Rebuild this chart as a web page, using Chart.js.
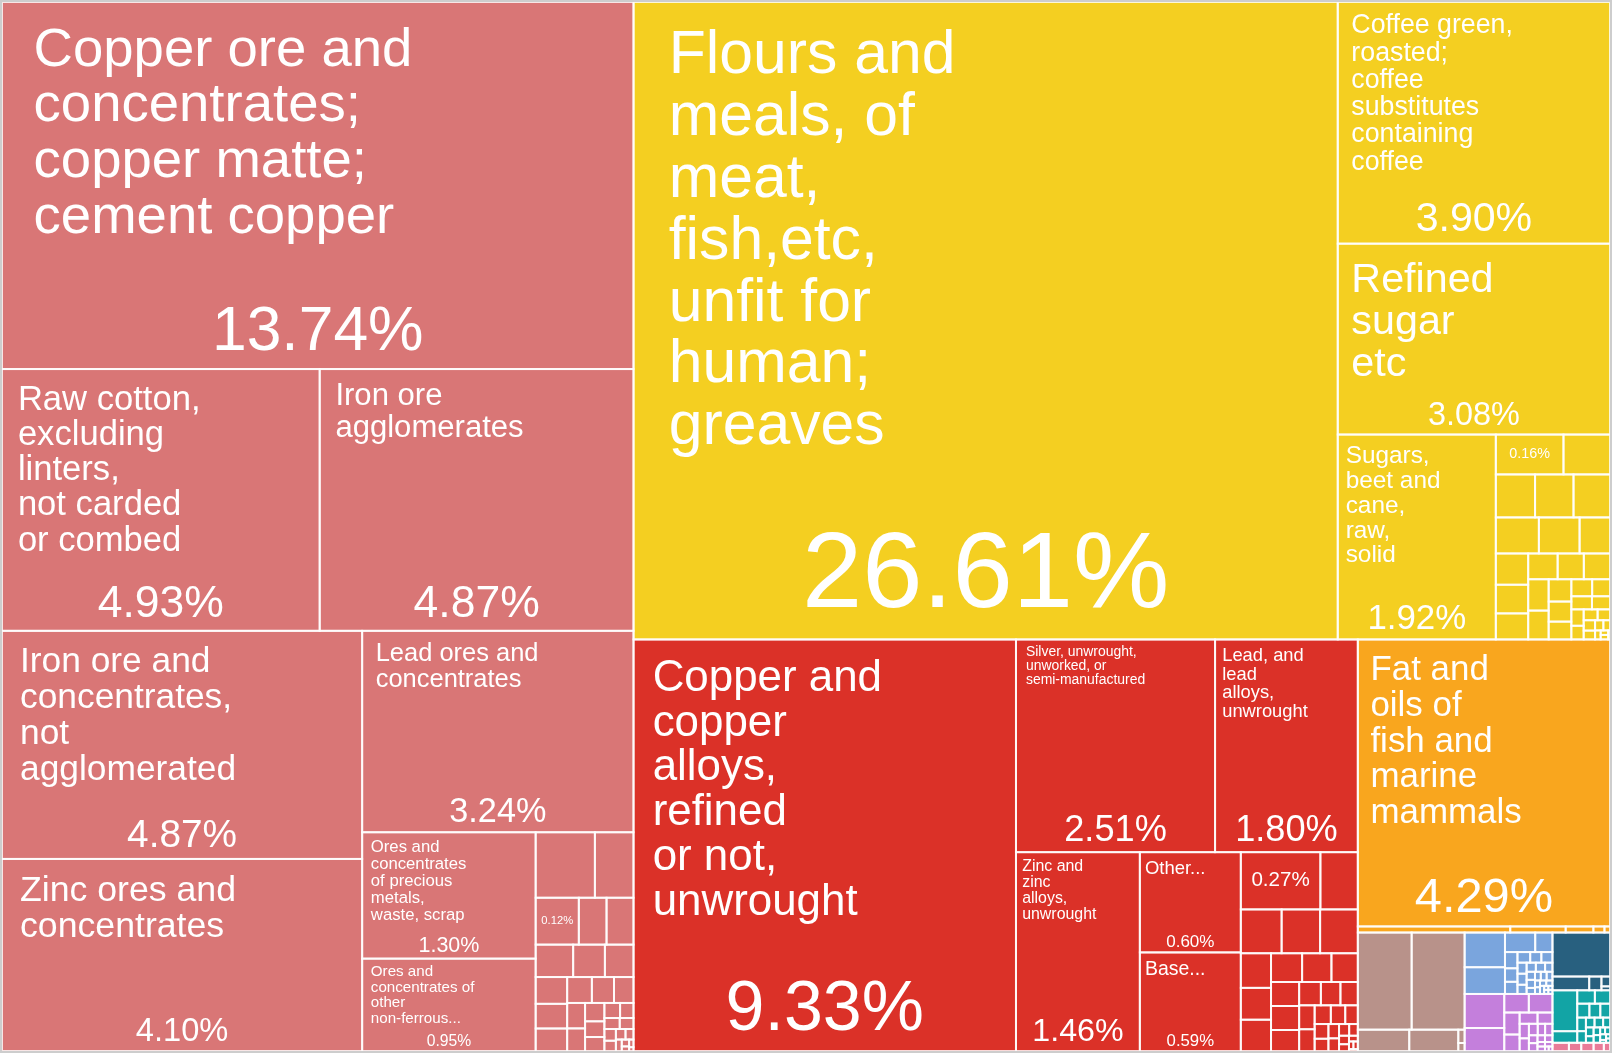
<!DOCTYPE html>
<html>
<head>
<meta charset="utf-8">
<title>Exports treemap</title>
<script src="https://cdn.jsdelivr.net/npm/chart.js@4.4.0/dist/chart.umd.min.js"></script>
<style>
    html, body { margin: 0; padding: 0; background: #cdcdcd; overflow: hidden; }
    #wrap { position: absolute; left: 2px; top: 2px; right: 2px; bottom: 2px; background: #fff; }
</style>
</head>
<body>
<div id="wrap"><canvas id="treemapChart"></canvas></div>
<script>
// Ores, cotton etc. (pink)
const mineralNames = [
    'Copper ore and\nconcentrates;\ncopper matte;\ncement copper',
    'Raw cotton,\nexcluding\nlinters,\nnot carded\nor combed',
    'Iron ore\nagglomerates',
    'Iron ore and\nconcentrates,\nnot\nagglomerated',
    'Zinc ores and\nconcentrates',
    'Lead ores and\nconcentrates',
    'Ores and\nconcentrates\nof precious\nmetals,\nwaste, scrap',
    'Ores and\nconcentrates of\nother\nnon-ferrous...',
    null, null, ''
];
const mineralValues = [13.74, 4.93, 4.87, 4.87, 4.10, 3.24, 1.30, 0.95,
    0.23, 0.15, 0.12, 0.077, 0.075, 0.072, 0.061, 0.055, 0.05, 0.046, 0.042, 0.038, 0.034,
    0.03, 0.027, 0.024, 0.021, 0.018, 0.016, 0.014, 0.012, 0.01, 0.009, 0.008, 0.007,
    0.006, 0.005, 0.004, 0.003, 0.002, 0.002, 0.001];

// Food stuffs (yellow)
const foodNames = [
    'Flours and\nmeals, of\nmeat,\nfish,etc,\nunfit for\nhuman;\ngreaves',
    'Coffee green,\nroasted;\ncoffee\nsubstitutes\ncontaining\ncoffee',
    'Refined\nsugar\netc',
    'Sugars,\nbeet and\ncane,\nraw,\nsolid',
    ''
];
const foodValues = [26.61, 3.90, 3.08, 1.92,
    0.16, 0.11, 0.10, 0.098, 0.093, 0.092, 0.087, 0.065, 0.06, 0.055, 0.05, 0.045, 0.04,
    0.04, 0.038, 0.035, 0.03, 0.027, 0.024, 0.021, 0.018, 0.016, 0.014, 0.012, 0.01,
    0.009, 0.008, 0.007, 0.006, 0.005, 0.004, 0.003, 0.002, 0.002, 0.001];

// Base metals (red)
const metalNames = [
    'Copper and\ncopper\nalloys,\nrefined\nor not,\nunwrought',
    'Silver, unwrought,\nunworked, or\nsemi-manufactured',
    'Lead, and\nlead\nalloys,\nunwrought',
    'Zinc and\nzinc\nalloys,\nunwrought',
    'Other...',
    'Base...',
    ''
];
const metalValues = [9.33, 2.51, 1.80, 1.46, 0.60, 0.59, 0.27,
    0.127, 0.106, 0.10, 0.098, 0.062, 0.057, 0.056, 0.053, 0.05, 0.045, 0.04, 0.04,
    0.035, 0.03, 0.027, 0.024, 0.022, 0.02, 0.018, 0.016, 0.014, 0.012, 0.01,
    0.009, 0.008, 0.007, 0.006, 0.005, 0.004, 0.003, 0.002, 0.002, 0.001];

// Animal and vegetable oils (orange)
const fatNames = ['Fat and\noils of\nfish and\nmarine\nmammals'];
const fatValues = [4.29, 0.055, 0.02, 0.01, 0.004, 0.002];

// Remaining small sections
const hideValues = [0.31, 0.305, 0.065, 0.062, 0.005, 0.003];
const machineryValues = [0.083, 0.064, 0.035, 0.02, 0.012, 0.01, 0.009, 0.008, 0.007, 0.007,
    0.006, 0.006, 0.005, 0.005, 0.005, 0.004, 0.004, 0.004, 0.003, 0.003, 0.003, 0.003,
    0.002, 0.002, 0.002, 0.002, 0.002, 0.001, 0.001, 0.001, 0.001];
const chemicalValues = [0.08, 0.054, 0.027, 0.026, 0.02, 0.015, 0.012, 0.01, 0.008, 0.007,
    0.006, 0.005, 0.005, 0.004, 0.004, 0.003, 0.003, 0.002, 0.002, 0.002, 0.001, 0.001];
const vehicleValues = [0.15, 0.03, 0.01, 0.005, 0.002];
const instrumentValues = [0.06, 0.017, 0.014, 0.012, 0.01, 0.009, 0.008, 0.007, 0.006, 0.005,
    0.005, 0.004, 0.004, 0.003, 0.003, 0.003, 0.002, 0.002, 0.002, 0.001, 0.001, 0.001];
const miscValues = [0.008, 0.006, 0.006, 0.005, 0.003];

const sections = [
    { color: '#d97676', names: mineralNames, values: mineralValues },
    { color: '#f4cf21', names: foodNames, values: foodValues },
    { color: '#db3128', names: metalNames, values: metalValues },
    { color: '#f9a61e', names: fatNames, values: fatValues },
    { color: '#b8928a', names: [], values: hideValues },
    { color: '#7aa5dd', names: [], values: machineryValues },
    { color: '#c47fdc', names: [], values: chemicalValues },
    { color: '#28607f', names: [], values: vehicleValues },
    { color: '#12a4a5', names: [], values: instrumentValues },
    { color: '#e97b98', names: [], values: miscValues }
];

const FONT = '"Liberation Sans", Arial, Helvetica, sans-serif';

// Squarified layout (ratio 1), nodes sorted descending
function squarify(nodes, x0, y0, x1, y1) {
    let value = nodes.reduce((s, n) => s + n.value, 0);
    let i0 = 0, i1 = 0;
    const n = nodes.length;
    while (i0 < n) {
        const dx = x1 - x0, dy = y1 - y0;
        let sumValue = nodes[i1++].value;
        let minValue = sumValue, maxValue = sumValue;
        const alpha = Math.max(dy / dx, dx / dy) / value;
        let beta = sumValue * sumValue * alpha;
        let minRatio = Math.max(maxValue / beta, beta / minValue);
        for (; i1 < n; ++i1) {
            const nv = nodes[i1].value;
            sumValue += nv;
            if (nv < minValue) minValue = nv;
            if (nv > maxValue) maxValue = nv;
            beta = sumValue * sumValue * alpha;
            const newRatio = Math.max(maxValue / beta, beta / minValue);
            if (newRatio > minRatio) { sumValue -= nv; break; }
            minRatio = newRatio;
        }
        const row = nodes.slice(i0, i1);
        if (dx < dy) {
            const yb = i1 >= n ? y1 : y0 + dy * sumValue / value;
            let xx = x0;
            row.forEach(nd => {
                const w = dx * nd.value / sumValue;
                nd.rect = [xx, y0, xx + w, yb];
                xx += w;
            });
            y0 = yb;
        } else {
            const xb = i1 >= n ? x1 : x0 + dx * sumValue / value;
            let yy = y0;
            row.forEach(nd => {
                const h = dy * nd.value / sumValue;
                nd.rect = [x0, yy, xb, yy + h];
                yy += h;
            });
            x0 = xb;
        }
        value -= sumValue;
        i0 = i1;
    }
}

function buildTree() {
    const tree = sections.map(s => {
        const children = s.values.map((v, i) => ({ value: v, name: s.names[i] }));
        children.sort((a, b) => b.value - a.value);
        return { color: s.color, value: s.values.reduce((a, b) => a + b, 0), children: children };
    });
    tree.sort((a, b) => b.value - a.value);
    return tree;
}

function drawLabel(ctx, cell) {
    if (cell.name === undefined || cell.name === null) return;
    const [x0, y0, x1, y1] = cell.rect;
    const w = x1 - x0, h = y1 - y0;
    const pct = cell.value.toFixed(2) + '%';
    ctx.fillStyle = '#ffffff';

    if (cell.name === '') {
        const p = Math.min(0.26 * w, 0.36 * h);
        ctx.font = p + 'px ' + FONT;
        ctx.textAlign = 'center';
        ctx.textBaseline = 'middle';
        ctx.fillText(pct, (x0 + x1) / 2, (y0 + y1) / 2);
        return;
    }

    const p = Math.min(0.17 * h, 0.26 * w);
    const lines = cell.name.split('\n');
    ctx.font = '100px ' + FONT;
    const em = Math.max(...lines.map(l => ctx.measureText(l).width)) / 100;
    const f = Math.min(0.6 * w / em, (h - 1.8 * p) / (1.17 + 1.02 * (lines.length - 1)));

    ctx.font = f + 'px ' + FONT;
    ctx.textAlign = 'left';
    ctx.textBaseline = 'alphabetic';
    lines.forEach((line, i) => {
        ctx.fillText(line, x0 + 0.05 * w, y0 + 1.17 * f + i * 1.02 * f);
    });

    ctx.font = p + 'px ' + FONT;
    ctx.textAlign = 'center';
    ctx.fillText(pct, (x0 + x1) / 2, y1 - 0.3 * p);
}

const treemapPlugin = {
    id: 'treemap',
    afterDatasetsDraw(chart) {
        const { ctx, scales: { x, y } } = chart;
        const left = x.getPixelForValue(0), right = x.getPixelForValue(100);
        const top = y.getPixelForValue(100), bottom = y.getPixelForValue(0);

        const tree = buildTree();
        squarify(tree, left, top, right, bottom);
        tree.forEach(g => squarify(g.children, ...g.rect));

        ctx.save();
        tree.forEach(g => {
            ctx.fillStyle = g.color;
            g.children.forEach(c => {
                const [x0, y0, x1, y1] = c.rect;
                ctx.fillRect(x0, y0, x1 - x0, y1 - y0);
            });
        });
        ctx.strokeStyle = 'rgba(255, 255, 255, 0.82)';
        ctx.lineWidth = 2;
        tree.forEach(g => {
            g.children.forEach(c => {
                const [x0, y0, x1, y1] = c.rect;
                ctx.strokeRect(x0, y0, x1 - x0, y1 - y0);
            });
        });
        tree.forEach(g => g.children.forEach(c => drawLabel(ctx, c)));
        ctx.restore();
    }
};

const ctx = document.getElementById('treemapChart').getContext('2d');
const treemapChart = new Chart(ctx, {
    type: 'scatter',
    data: { datasets: [{ data: [] }] },
    options: {
        responsive: true,
        maintainAspectRatio: false,
        animation: false,
        events: [],
        layout: { padding: 0 },
        plugins: {
            legend: { display: false },
            tooltip: { enabled: false }
        },
        scales: {
            x: { type: 'linear', min: 0, max: 100, display: false },
            y: { type: 'linear', min: 0, max: 100, display: false }
        }
    },
    plugins: [treemapPlugin]
});
</script>
</body>
</html>
